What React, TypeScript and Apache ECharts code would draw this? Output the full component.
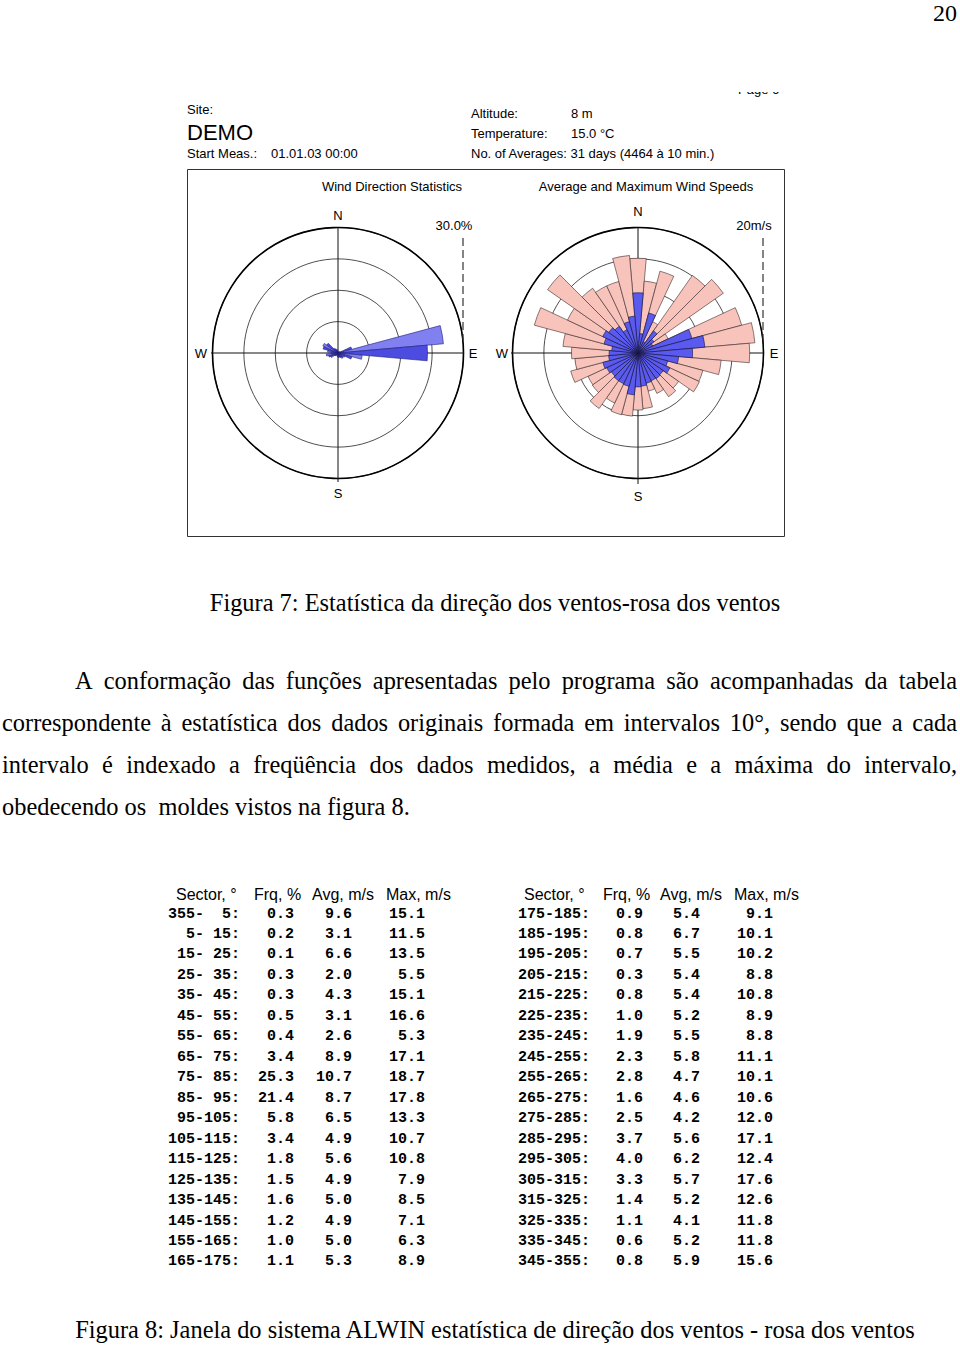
import React, { useEffect, useRef } from "react";
import * as echarts from "echarts";

const SECTOR_FROM = [355, 5, 15, 25, 35, 45, 55, 65, 75, 85, 95, 105, 115, 125, 135, 145, 155, 165, 175, 185, 195, 205, 215, 225, 235, 245, 255, 265, 275, 285, 295, 305, 315, 325, 335, 345];
const SECTOR_TO = [5, 15, 25, 35, 45, 55, 65, 75, 85, 95, 105, 115, 125, 135, 145, 155, 165, 175, 185, 195, 205, 215, 225, 235, 245, 255, 265, 275, 285, 295, 305, 315, 325, 335, 345, 355];
const FREQ = [0.3, 0.2, 0.1, 0.3, 0.3, 0.5, 0.4, 3.4, 25.3, 21.4, 5.8, 3.4, 1.8, 1.5, 1.6, 1.2, 1.0, 1.1, 0.9, 0.8, 0.7, 0.3, 0.8, 1.0, 1.9, 2.3, 2.8, 1.6, 2.5, 3.7, 4.0, 3.3, 1.4, 1.1, 0.6, 0.8];
const AVG = [9.6, 3.1, 6.6, 2.0, 4.3, 3.1, 2.6, 8.9, 10.7, 8.7, 6.5, 4.9, 5.6, 4.9, 5.0, 4.9, 5.0, 5.3, 5.4, 6.7, 5.5, 5.4, 5.4, 5.2, 5.5, 5.8, 4.7, 4.6, 4.2, 5.6, 6.2, 5.7, 5.2, 4.1, 5.2, 5.9];
const MAX = [15.1, 11.5, 13.5, 5.5, 15.1, 16.6, 5.3, 17.1, 18.7, 17.8, 13.3, 10.7, 10.8, 7.9, 8.5, 7.1, 6.3, 8.9, 9.1, 10.1, 10.2, 8.8, 10.8, 8.9, 8.8, 11.1, 10.1, 10.6, 12.0, 17.1, 12.4, 17.6, 12.6, 11.8, 11.8, 15.6];
const TABLE_HEADERS = ["Sector, °", "Frq, %", "Avg, m/s", "Max, m/s"];
const FREQ_SCALE_MAX = 30;
const SPEED_SCALE_MAX = 20;
const PARAGRAPH_LINES = [
  "A conformação das funções apresentadas pelo programa são acompanhadas da tabela",
  "correspondente à estatística dos dados originais formada em intervalos 10°, sendo que a cada",
  "intervalo é indexado a freqüência dos dados medidos, a média e a máxima do intervalo,",
  "obedecendo os  moldes vistos na figura 8.",
];
const CAPTION_7 = "Figura 7: Estatística da direção dos ventos-rosa dos ventos";
const CAPTION_8 = "Figura 8: Janela do sistema ALWIN estatística de direção dos ventos - rosa dos ventos";

const SANS = "'Liberation Sans', Arial, sans-serif";
const SERIF = "'Liberation Serif', 'Times New Roman', serif";
const MONO = "'Liberation Mono', 'Courier New', monospace";

function T(text: string, x: number, y: number, o: any = {}) {
  const align = o.align || "left";
  return {
    type: "text",
    x,
    y,
    z: o.z ?? 10,
    style: {
      text,
      fontSize: o.size || 13,
      fontFamily: o.family || SANS,
      fontWeight: o.weight || "normal",
      fill: o.color || "#000",
      align,
      textAlign: align,
      verticalAlign: "middle",
      textVerticalAlign: "middle",
    },
  };
}

export default function App() {
  const ref = useRef<HTMLDivElement>(null);
  useEffect(() => {
    document.body.style.margin = "0";
    const chart = echarts.init(ref.current!, null, { renderer: "svg" });
    const canvas = document.createElement("canvas");
    const ctx = canvas.getContext("2d")!;
    const serifSize = 24.4;
    ctx.font = `${serifSize}px 'Liberation Serif'`;
    const g: any[] = [];

    // page number
    g.push(T("20", 957, 13, { size: 24, family: SERIF, align: "right" }));

    // header block
    g.push(T("Page 6", 738, 89, { size: 13 }));
    g.push({ type: "rect", z: 20, shape: { x: 700, y: 60, width: 120, height: 32 }, style: { fill: "#fff" } });
    g.push(T("Site:", 187, 109, { size: 13 }));
    g.push(T("DEMO", 187, 132, { size: 22 }));
    g.push(T("Start Meas.:", 187, 153, { size: 13 }));
    g.push(T("01.01.03 00:00", 271, 153, { size: 13 }));
    g.push(T("Altitude:", 471, 113, { size: 13 }));
    g.push(T("8 m", 571, 113, { size: 13 }));
    g.push(T("Temperature:", 471, 133, { size: 13 }));
    g.push(T("15.0 °C", 571, 133, { size: 13 }));
    g.push(T("No. of Averages: 31 days (4464 à 10 min.)", 471, 153, { size: 13 }));

    // frame
    g.push({ type: "rect", z: 0, shape: { x: 187.5, y: 169.5, width: 597, height: 367 }, style: { fill: "none", stroke: "#333", lineWidth: 1 } });
    g.push(T("Wind Direction Statistics", 392, 186, { size: 13, align: "center" }));
    g.push(T("Average and Maximum Wind Speeds", 646, 186, { size: 13, align: "center" }));

    // compass decorations
    const roses = [
      { cx: 338, cy: 353, n: 215, s: 493, w: 201, e: 473, vTop: 228, vBot: 482, hL: 211, hR: 464, scale: "30.0%", sx: 454, dx: 463 },
      { cx: 638, cy: 353, n: 211, s: 496, w: 502, e: 774, vTop: 228, vBot: 484, hL: 511, hR: 764, scale: "20m/s", sx: 754, dx: 763 },
    ];
    roses.forEach((r) => {
      g.push({ type: "line", z: 1, shape: { x1: r.cx, y1: r.vTop, x2: r.cx, y2: r.vBot }, style: { stroke: "#111", lineWidth: 1 } });
      g.push({ type: "line", z: 1, shape: { x1: r.hL, y1: r.cy, x2: r.hR, y2: r.cy }, style: { stroke: "#111", lineWidth: 1 } });
      g.push(T("N", r.cx, r.n, { size: 13, align: "center" }));
      g.push(T("S", r.cx, r.s, { size: 13, align: "center" }));
      g.push(T("W", r.w, r.cy, { size: 13, align: "center" }));
      g.push(T("E", r.e, r.cy, { size: 13, align: "center" }));
      g.push(T(r.scale, r.sx, 225, { size: 13, align: "center" }));
      g.push({ type: "line", z: 1, shape: { x1: r.dx, y1: 238, x2: r.dx, y2: 340 }, style: { stroke: "#333", lineWidth: 1.2, lineDash: [8, 4] } });
    });

    // captions
    g.push(T(CAPTION_7, 495, 602, { size: serifSize, family: SERIF, align: "center" }));
    g.push(T(CAPTION_8, 495, 1329, { size: serifSize, family: SERIF, align: "center" }));

    // paragraph (justified)
    const lineY = [680, 722, 764, 806];
    const lineX0 = [75, 2, 2, 2];
    const lineX1 = 957;
    const spaceW = ctx.measureText(" ").width;
    PARAGRAPH_LINES.forEach((line, i) => {
      const words = line.split(" ");
      if (i < PARAGRAPH_LINES.length - 1) {
        const widths = words.map((w) => ctx.measureText(w).width);
        const total = widths.reduce((a, b) => a + b, 0);
        const gap = (lineX1 - lineX0[i] - total) / (words.length - 1);
        let x = lineX0[i];
        words.forEach((w, k) => {
          g.push(T(w, x, lineY[i], { size: serifSize, family: SERIF }));
          x += widths[k] + gap;
        });
      } else {
        let x = lineX0[i];
        words.forEach((w) => {
          if (w) g.push(T(w, x, lineY[i], { size: serifSize, family: SERIF }));
          x += ctx.measureText(w).width + spaceW;
        });
      }
    });

    // table
    const headX = [[176, 254, 312, 386], [524, 603, 660, 734]];
    const colX = [[204, 240, 294, 352, 425], [554, 590, 643, 700, 773]];
    [0, 1].forEach((t) => {
      TABLE_HEADERS.forEach((h, k) => g.push(T(h, headX[t][k], 894, { size: 16 })));
    });
    const rowH = 20.47;
    SECTOR_FROM.forEach((from, i) => {
      const t = i < 18 ? 0 : 1;
      const row = i % 18;
      const y = 914 + row * rowH;
      const cx = colX[t];
      const o = { size: 15, family: MONO, weight: "bold", align: "right" };
      g.push(T(`${from}-`, cx[0], y, o));
      g.push(T(`${SECTOR_TO[i]}:`, cx[1], y, o));
      g.push(T(FREQ[i].toFixed(1), cx[2], y, o));
      g.push(T(AVG[i].toFixed(1), cx[3], y, o));
      g.push(T(MAX[i].toFixed(1), cx[4], y, o));
    });

    const cats = SECTOR_FROM.map((f, i) => `${f}-${SECTOR_TO[i]}`);
    const angleAxisBase = {
      type: "category",
      data: cats,
      startAngle: 95,
      clockwise: true,
      boundaryGap: true,
      axisLine: { show: true, lineStyle: { color: "#000", width: 1.6 } },
      axisTick: { show: false },
      axisLabel: { show: false },
      splitLine: { show: false },
    };
    const radiusAxisBase = {
      type: "value",
      axisLine: { show: false },
      axisTick: { show: false },
      axisLabel: { show: false },
      splitLine: { show: true, lineStyle: { color: "#222", width: 0.8 } },
    };

    chart.setOption({
      animation: false,
      backgroundColor: "#fff",
      polar: [
        { center: [338, 353], radius: 125.5 },
        { center: [638, 353], radius: 125.5 },
      ],
      angleAxis: [
        { ...angleAxisBase, polarIndex: 0 },
        { ...angleAxisBase, polarIndex: 1 },
      ],
      radiusAxis: [
        { ...radiusAxisBase, polarIndex: 0, min: 0, max: FREQ_SCALE_MAX, interval: 7.5 },
        { ...radiusAxisBase, polarIndex: 1, min: 0, max: SPEED_SCALE_MAX, interval: 5 },
      ],
      series: [
        {
          type: "bar",
          name: "Frq, %",
          coordinateSystem: "polar",
          polarIndex: 0,
          barCategoryGap: "0%",
          data: FREQ.map((v, i) => ({ value: v, itemStyle: { color: i % 2 === 0 ? "#8080f0" : "#4c4ce0" } })),
          itemStyle: { borderColor: "#1c1c7a", borderWidth: 0.6 },
          z: 3,
        },
        {
          type: "bar",
          name: "Max, m/s",
          coordinateSystem: "polar",
          polarIndex: 1,
          barCategoryGap: "0%",
          barGap: "-100%",
          data: MAX,
          itemStyle: { color: "#f8c3bb", borderColor: "#3a2a2a", borderWidth: 0.6 },
          z: 3,
        },
        {
          type: "bar",
          name: "Avg, m/s",
          coordinateSystem: "polar",
          polarIndex: 1,
          barCategoryGap: "0%",
          barGap: "-100%",
          data: AVG,
          itemStyle: { color: "#5a5aee", borderColor: "#14143c", borderWidth: 0.6 },
          z: 4,
        },
      ],
      graphic: { elements: g },
    });
    return () => chart.dispose();
  }, []);
  return <div ref={ref} style={{ position: "absolute", left: 0, top: 0, width: 960, height: 1346, background: "#fff" }} />;
}
